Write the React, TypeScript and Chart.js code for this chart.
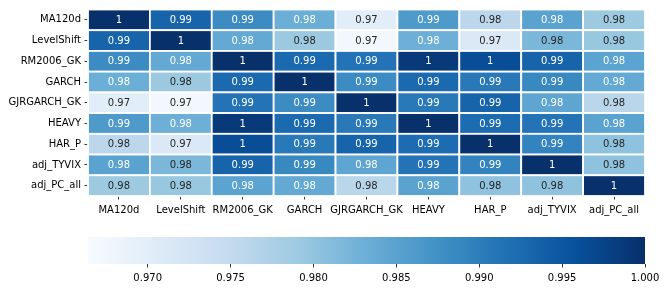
import React, { useEffect, useRef } from "react";
import { Chart, registerables } from "chart.js";
Chart.register(...registerables);

const labels = ["MA120d", "LevelShift", "RM2006_GK", "GARCH", "GJRGARCH_GK", "HEAVY", "HAR_P", "adj_TYVIX", "adj_PC_all"];

const rowMA120d = [1.0, 0.9933, 0.9882, 0.9832, 0.9701, 0.9862, 0.9758, 0.9849, 0.979];
const rowLevelShift = [0.9933, 1.0, 0.9839, 0.9792, 0.9671, 0.983, 0.9711, 0.9819, 0.9795];
const rowRM2006 = [0.9882, 0.9839, 1.0, 0.9926, 0.9913, 0.9987, 0.9963, 0.9933, 0.9848];
const rowGARCH = [0.9832, 0.9792, 0.9926, 1.0, 0.9882, 0.9926, 0.9906, 0.9886, 0.984];
const rowGJR = [0.9701, 0.9671, 0.9913, 0.9882, 1.0, 0.9906, 0.9933, 0.9845, 0.9761];
const rowHEAVY = [0.9862, 0.983, 0.9987, 0.9926, 0.9906, 1.0, 0.9923, 0.9913, 0.9849];
const rowHAR = [0.9758, 0.9711, 0.9963, 0.9906, 0.9933, 0.9923, 1.0, 0.9893, 0.9802];
const rowTYVIX = [0.9849, 0.9819, 0.9933, 0.9886, 0.9845, 0.9913, 0.9893, 1.0, 0.9802];
const rowPC = [0.979, 0.9795, 0.9848, 0.984, 0.9761, 0.9849, 0.9802, 0.9802, 1.0];

const rows = [rowMA120d, rowLevelShift, rowRM2006, rowGARCH, rowGJR, rowHEAVY, rowHAR, rowTYVIX, rowPC];

const vmin = 0.9664;
const vmax = 1.0;
const cbarTicks = [0.97, 0.975, 0.98, 0.985, 0.99, 0.995, 1.0];

const FONT = "'DejaVu Sans', sans-serif";

const bluesStops = ["#f7fbff", "#deebf7", "#c6dbef", "#9ecae1", "#6baed6", "#4292c6", "#2171b5", "#08519c", "#08306b"];
const hex = (h: string) => [parseInt(h.slice(1, 3), 16), parseInt(h.slice(3, 5), 16), parseInt(h.slice(5, 7), 16)];
const stopsRGB = bluesStops.map(hex);

function blues(v: number): number[] {
  let t = (v - vmin) / (vmax - vmin);
  t = Math.max(0, Math.min(1, t));
  const p = t * (stopsRGB.length - 1);
  const i = Math.min(Math.floor(p), stopsRGB.length - 2);
  const f = p - i;
  const a = stopsRGB[i], b = stopsRGB[i + 1];
  return [0, 1, 2].map((k) => a[k] + (b[k] - a[k]) * f);
}
const rgbStr = (c: number[]) => `rgb(${c.map((x) => Math.round(x)).join(",")})`;
function luminance(c: number[]) {
  const lin = c.map((x) => {
    const s = x / 255;
    return s <= 0.03928 ? s / 12.92 : Math.pow((s + 0.055) / 1.055, 2.4);
  });
  return 0.2126 * lin[0] + 0.7152 * lin[1] + 0.0722 * lin[2];
}
const fmt = (v: number) => String(Number(v.toPrecision(2)));

const heatPlugin = {
  id: "heat",
  afterDatasetsDraw(chart: any) {
    const ctx = chart.ctx;
    const xs = chart.scales.x, ys = chart.scales.y;
    ctx.save();
    rows.forEach((row, r) => {
      row.forEach((v, c) => {
        const x0 = xs.getPixelForValue(c), x1 = xs.getPixelForValue(c + 1);
        const y0 = ys.getPixelForValue(r), y1 = ys.getPixelForValue(r + 1);
        const col = blues(v);
        ctx.fillStyle = rgbStr(col);
        ctx.fillRect(x0, y0, x1 - x0, y1 - y0);
        ctx.strokeStyle = "#ffffff";
        ctx.lineWidth = 1.8;
        ctx.strokeRect(x0, y0, x1 - x0, y1 - y0);
      });
    });
    ctx.font = `10px ${FONT}`;
    ctx.textAlign = "center";
    ctx.textBaseline = "middle";
    rows.forEach((row, r) => {
      row.forEach((v, c) => {
        const cx = xs.getPixelForValue(c + 0.5);
        const cy = ys.getPixelForValue(r + 0.5);
        const col = blues(v);
        ctx.fillStyle = luminance(col) > 0.408 ? "#262626" : "#ffffff";
        ctx.fillText(fmt(v), cx, cy + 0.5);
      });
    });
    ctx.restore();
  },
};

const cbarPlugin = {
  id: "cbar",
  beforeDatasetsDraw(chart: any) {
    const ctx = chart.ctx;
    const xs = chart.scales.x;
    const { top, bottom } = chart.chartArea;
    const xa = xs.getPixelForValue(vmin), xb = xs.getPixelForValue(vmax);
    const grad = ctx.createLinearGradient(xa, 0, xb, 0);
    const n = 64;
    for (let i = 0; i <= n; i++) {
      const v = vmin + ((vmax - vmin) * i) / n;
      grad.addColorStop((xs.getPixelForValue(v) - xa) / (xb - xa), rgbStr(blues(v)));
    }
    ctx.save();
    ctx.fillStyle = grad;
    ctx.fillRect(xa, top, xb - xa, bottom - top);
    ctx.restore();
  },
};

const tickFont = { family: FONT, size: 10 };

export default function App() {
  const heatRef = useRef<HTMLCanvasElement>(null);
  const cbarRef = useRef<HTMLCanvasElement>(null);

  useEffect(() => {
    const points: any[] = [];
    rows.forEach((row, r) => row.forEach((v, c) => points.push({ x: c + 0.5, y: r + 0.5, v })));
    const catAxis = (position: string, reverse: boolean, fit: (s: any) => void, pad: number) => ({
      type: "linear",
      position,
      min: 0,
      max: 9,
      reverse,
      afterBuildTicks: (axis: any) => {
        axis.ticks = labels.map((_, i) => ({ value: i + 0.5 }));
      },
      afterFit: fit,
      ticks: {
        callback: (v: number) => labels[Math.round(v - 0.5)],
        font: tickFont,
        color: "#000000",
        autoSkip: false,
        maxRotation: 0,
        minRotation: 0,
        padding: pad,
      },
      grid: { display: true, drawOnChartArea: false, drawTicks: true, tickLength: 3.5, color: "#000000", lineWidth: 0.8 },
      border: { display: false },
    });
    const heat = new Chart(heatRef.current!, {
      type: "scatter",
      data: { datasets: [{ data: points, pointRadius: 0, pointHoverRadius: 0 }] },
      options: {
        responsive: false,
        animation: false,
        events: [],
        layout: { padding: { top: 8, right: 21, left: 0, bottom: 0 } },
        plugins: { legend: { display: false }, tooltip: { enabled: false } },
        scales: {
          x: catAxis("bottom", false, (s: any) => { s.height = 29; }, 4.5) as any,
          y: catAxis("left", true, (s: any) => { s.width = 88; }, 3.5) as any,
        },
      },
      plugins: [heatPlugin],
    });
    const cbar = new Chart(cbarRef.current!, {
      type: "scatter",
      data: { datasets: [] },
      options: {
        responsive: false,
        animation: false,
        events: [],
        layout: { padding: { top: 12, right: 21, left: 88, bottom: 0 } },
        plugins: { legend: { display: false }, tooltip: { enabled: false } },
        scales: {
          x: {
            type: "linear",
            min: vmin,
            max: vmax,
            afterBuildTicks: (axis: any) => {
              axis.ticks = cbarTicks.map((v) => ({ value: v }));
            },
            afterFit: (s: any) => { s.height = 26; },
            ticks: {
              callback: (v: number) => v.toFixed(3),
              font: tickFont,
              color: "#000000",
              autoSkip: false,
              maxRotation: 0,
              padding: 4.5,
            },
            grid: { display: true, drawOnChartArea: false, drawTicks: true, tickLength: 3.5, color: "#000000", lineWidth: 0.8 },
            border: { display: false },
          } as any,
          y: { display: false, min: 0, max: 1 },
        },
      },
      plugins: [cbarPlugin],
    });
    return () => {
      heat.destroy();
      cbar.destroy();
    };
  }, []);

  return (
    <div style={{ position: "absolute", left: 0, top: 0, width: 666, height: 290, background: "#fff" }}>
      <canvas ref={heatRef} width={666} height={225} style={{ position: "absolute", left: 0, top: 0, width: 666, height: 225 }} />
      <canvas ref={cbarRef} width={666} height={65} style={{ position: "absolute", left: 0, top: 225, width: 666, height: 65 }} />
    </div>
  );
}
